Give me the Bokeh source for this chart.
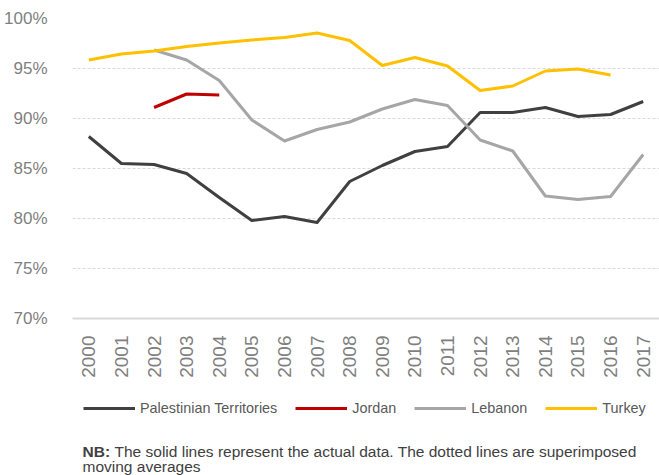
import math
from bokeh.plotting import figure
from bokeh.layouts import column
from bokeh.models import (FactorRange, Range1d, Legend, LegendItem, Label,
                          FixedTicker, PrintfTickFormatter, ColumnDataSource)
from bokeh.embed import file_html
from bokeh.resources import INLINE

nan = float("nan")

years = [str(y) for y in range(2000, 2018)]
palestinian = [88.2, 85.5, 85.4, 84.5, 82.1, 79.8, 80.2, 79.6, 83.7, 85.3,
               86.7, 87.2, 90.6, 90.6, 91.1, 90.2, 90.4, 91.7]
jordan = [nan, nan, 91.1, 92.45, 92.35, nan, nan, nan, nan, nan,
          nan, nan, nan, nan, nan, nan, nan, nan]
lebanon = [nan, nan, 96.85, 95.85, 93.8, 89.85, 87.75, 88.9, 89.65, 90.95,
           91.9, 91.3, 87.85, 86.75, 82.25, 81.9, 82.2, 86.4]
turkey = [95.85, 96.45, 96.75, 97.2, 97.55, 97.85, 98.1, 98.55, 97.8, 95.3,
          96.1, 95.25, 92.8, 93.25, 94.75, 94.95, 94.35, nan]
y_ticks = [70, 75, 80, 85, 90, 95, 100]

series = [
    ("Palestinian Territories", "pal", "#404040"),
    ("Jordan", "jor", "#c00000"),
    ("Lebanon", "leb", "#a6a6a6"),
    ("Turkey", "tur", "#ffc000"),
]
note_bold = "NB:"
note_line1 = "The solid lines represent the actual data. The dotted lines are superimposed"
note_line2 = "moving averages"

FONT = "Liberation Sans"

src = ColumnDataSource(dict(x=years, pal=palestinian, jor=jordan,
                            leb=lebanon, tur=turkey))

# ---------------- main chart ----------------
p = figure(width=659, height=380, output_backend="svg", toolbar_location=None,
           x_range=FactorRange(*years, range_padding=0),
           y_range=Range1d(70, 100),
           min_border_left=72, min_border_right=0, min_border_top=18,
           min_border_bottom=60)
p.outline_line_color = None

for name, key, color in series:
    p.line("x", key, source=src, line_color=color, line_width=3,
           line_join="round")

p.xgrid.grid_line_color = None
p.ygrid.grid_line_color = "#d9d9d9"
p.ygrid.grid_line_dash = "3 2"
p.ygrid.grid_line_width = 1
p.yaxis.ticker = FixedTicker(ticks=y_ticks)
p.yaxis.formatter = PrintfTickFormatter(format="%d%%")
p.yaxis.axis_line_color = None
p.yaxis.major_tick_line_color = None
p.yaxis.minor_tick_line_color = None
p.yaxis.major_label_standoff = 19
p.yaxis.major_label_text_font = FONT
p.yaxis.major_label_text_font_size = "17px"
p.yaxis.major_label_text_color = "#7f7f7f"

p.xaxis.axis_line_color = "#d9d9d9"
p.xaxis.axis_line_width = 2
p.xaxis.major_tick_line_color = None
p.xaxis.minor_tick_line_color = None
p.xaxis.major_label_orientation = math.pi / 2
p.xaxis.major_label_standoff = 11
p.xaxis.major_label_text_font = FONT
p.xaxis.major_label_text_font_size = "19px"
p.xaxis.major_label_text_color = "#7f7f7f"

# ---------------- legend + note (frame aligned with chart frame) ----------------
q = figure(width=659, height=95, output_backend="svg", toolbar_location=None,
           x_range=p.x_range, y_range=Range1d(0, 1),
           min_border_left=72, min_border_right=0, min_border_top=0,
           min_border_bottom=0)
q.outline_line_color = None
q.axis.visible = False
q.grid.visible = False

items = []
for name, key, color in series:
    # same data; it lies outside this strip's y range, so only the legend glyph shows
    r = q.line("x", key, source=src, line_color=color, line_width=3)
    items.append(LegendItem(label=name, renderers=[r]))

legend = Legend(items=items, orientation="horizontal", location=(11, 59),
                glyph_width=52, glyph_height=16, label_standoff=5, spacing=18,
                padding=0, margin=0, border_line_color=None,
                background_fill_alpha=0,
                label_text_font=FONT, label_text_font_size="14.4px",
                label_text_color="#595959")
q.add_layout(legend)

nb = Label(x=10, y=24, x_units="screen", y_units="screen", text=note_bold,
           text_font=FONT, text_font_size="15.5px", text_font_style="bold",
           text_color="#404040", text_baseline="alphabetic")
t1 = Label(x=42, y=24, x_units="screen", y_units="screen", text=note_line1,
           text_font=FONT, text_font_size="15.5px", text_color="#404040",
           text_baseline="alphabetic")
t2 = Label(x=10, y=9, x_units="screen", y_units="screen", text=note_line2,
           text_font=FONT, text_font_size="15.5px", text_color="#404040",
           text_baseline="alphabetic")
for lab in (nb, t1, t2):
    q.add_layout(lab)

layout = column(p, q, spacing=0)
open("out.html", "w").write(file_html(layout, INLINE))
